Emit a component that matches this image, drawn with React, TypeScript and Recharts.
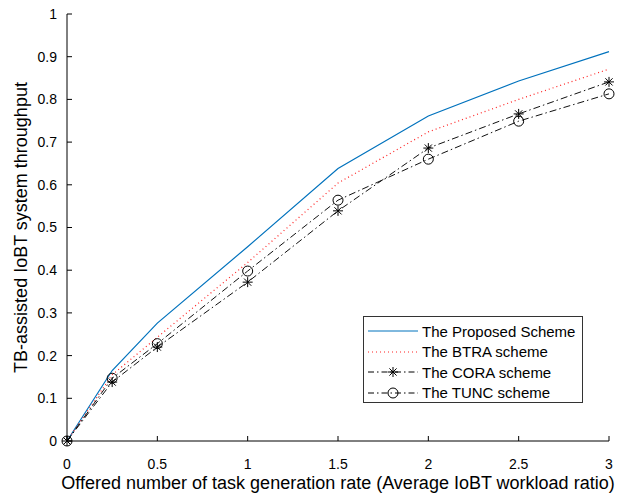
import React from "react";
import { LineChart, Line, XAxis, YAxis } from "recharts";

// offered task generation rate (x) and throughput of each scheme
const rates = [0, 0.25, 0.5, 1, 1.5, 2, 2.5, 3];
const proposed = [0, 0.165, 0.276, 0.455, 0.638, 0.761, 0.843, 0.912];
const btra = [0, 0.155, 0.243, 0.418, 0.604, 0.724, 0.8, 0.871];
const cora = [0, 0.138, 0.22, 0.372, 0.539, 0.686, 0.766, 0.841];
const tunc = [0, 0.147, 0.228, 0.398, 0.564, 0.66, 0.749, 0.813];

const xTicks = [0, 0.5, 1, 1.5, 2, 2.5, 3];
const yTicks = [0, 0.1, 0.2, 0.3, 0.4, 0.5, 0.6, 0.7, 0.8, 0.9, 1];

const seriesNames = [
  "The Proposed Scheme",
  "The BTRA scheme",
  "The CORA scheme",
  "The TUNC scheme",
];

const data = rates.map((x, i) => ({
  x,
  proposed: proposed[i],
  btra: btra[i],
  cora: cora[i],
  tunc: tunc[i],
}));

const FONT = "'Liberation Sans', Arial, Helvetica, sans-serif";
const DASHDOT = "7 3 1.5 3";
const tickStyle = { fontSize: 14, fill: "#000", fontFamily: FONT };

function Star({ cx, cy, r = 5 }: { cx: number; cy: number; r?: number }) {
  const d = r * 0.72;
  return (
    <g stroke="#000" strokeWidth={1}>
      <line x1={cx - r} y1={cy} x2={cx + r} y2={cy} />
      <line x1={cx} y1={cy - r} x2={cx} y2={cy + r} />
      <line x1={cx - d} y1={cy - d} x2={cx + d} y2={cy + d} />
      <line x1={cx - d} y1={cy + d} x2={cx + d} y2={cy - d} />
    </g>
  );
}

function Circle({ cx, cy }: { cx: number; cy: number }) {
  return <circle cx={cx} cy={cy} r={5} fill="none" stroke="#000" strokeWidth={1} />;
}

function LegendBox() {
  const rows = [
    { stroke: "#0072BD", dash: undefined, marker: null },
    { stroke: "#ff2020", dash: "1 3", marker: null },
    { stroke: "#000", dash: "6 3 1.5 3", marker: "star" },
    { stroke: "#000", dash: "6 3 1.5 3", marker: "circle" },
  ];
  return (
    <div
      style={{
        position: "absolute",
        left: 363,
        top: 316,
        width: 218,
        height: 85,
        border: "1px solid #333",
        background: "#fff",
        fontFamily: FONT,
        fontSize: 15,
        color: "#000",
      }}
    >
      {rows.map((r, i) => (
        <div
          key={i}
          style={{
            position: "absolute",
            left: 0,
            top: 4 + i * 20.5,
            height: 20,
            display: "flex",
            alignItems: "center",
            whiteSpace: "nowrap",
          }}
        >
          <svg width={58} height={20} style={{ display: "block" }}>
            <line
              x1={4}
              y1={10}
              x2={54}
              y2={10}
              stroke={r.stroke}
              strokeWidth={1}
              strokeDasharray={r.dash}
            />
            {r.marker === "star" && <Star cx={29} cy={10} />}
            {r.marker === "circle" && <Circle cx={29} cy={10} />}
          </svg>
          <span>{seriesNames[i]}</span>
        </div>
      ))}
    </div>
  );
}

export default function App() {
  return (
    <div style={{ position: "absolute", left: 0, top: 0, width: 618, height: 496, background: "#fff" }}>
      <LineChart
        width={618}
        height={496}
        data={data}
        margin={{ top: 14, right: 9, left: 0, bottom: 0 }}
        style={{ fontFamily: FONT }}
      >
        <XAxis
          dataKey="x"
          type="number"
          domain={[0, 3]}
          ticks={xTicks}
          height={55}
          tickSize={-5}
          tickMargin={23}
          tick={tickStyle}
          axisLine={{ stroke: "#000" }}
          tickLine={{ stroke: "#000" }}
          label={{
            value: "Offered number of task generation rate (Average IoBT workload ratio)",
            position: "insideBottom",
            offset: 7,
            style: { fontSize: 18, fill: "#000", fontFamily: FONT },
          }}
        />
        <XAxis
          xAxisId="top"
          dataKey="x"
          type="number"
          orientation="top"
          domain={[0, 3]}
          ticks={xTicks}
          height={0}
          tickSize={-5}
          tick={false}
          axisLine={{ stroke: "#000" }}
          tickLine={{ stroke: "#000" }}
        />
        <YAxis
          type="number"
          domain={[0, 1]}
          ticks={yTicks}
          width={67}
          tickSize={-5}
          tickMargin={15}
          tick={tickStyle}
          axisLine={{ stroke: "#000" }}
          tickLine={{ stroke: "#000" }}
          label={{
            value: "TB-assisted IoBT system throughput",
            angle: -90,
            position: "insideLeft",
            offset: 21,
            style: { fontSize: 18, fill: "#000", fontFamily: FONT, textAnchor: "middle" },
          }}
        />
        <YAxis
          yAxisId="right"
          orientation="right"
          type="number"
          domain={[0, 1]}
          ticks={yTicks}
          width={0}
          tickSize={-5}
          tick={false}
          axisLine={{ stroke: "#000" }}
          tickLine={{ stroke: "#000" }}
        />
        <Line
          dataKey="proposed"
          stroke="#0072BD"
          strokeWidth={1.2}
          dot={false}
          activeDot={false}
          isAnimationActive={false}
        />
        <Line
          dataKey="btra"
          stroke="#ff2020"
          strokeWidth={1.2}
          strokeDasharray="1 3"
          dot={false}
          activeDot={false}
          isAnimationActive={false}
        />
        <Line
          dataKey="cora"
          stroke="#111"
          strokeWidth={1}
          strokeDasharray={DASHDOT}
          dot={(p: any) => <Star key={`s${p.index}`} cx={p.cx} cy={p.cy} />}
          activeDot={false}
          isAnimationActive={false}
        />
        <Line
          dataKey="tunc"
          stroke="#111"
          strokeWidth={1}
          strokeDasharray={DASHDOT}
          dot={(p: any) => <Circle key={`c${p.index}`} cx={p.cx} cy={p.cy} />}
          activeDot={false}
          isAnimationActive={false}
        />
      </LineChart>
      <LegendBox />
    </div>
  );
}
